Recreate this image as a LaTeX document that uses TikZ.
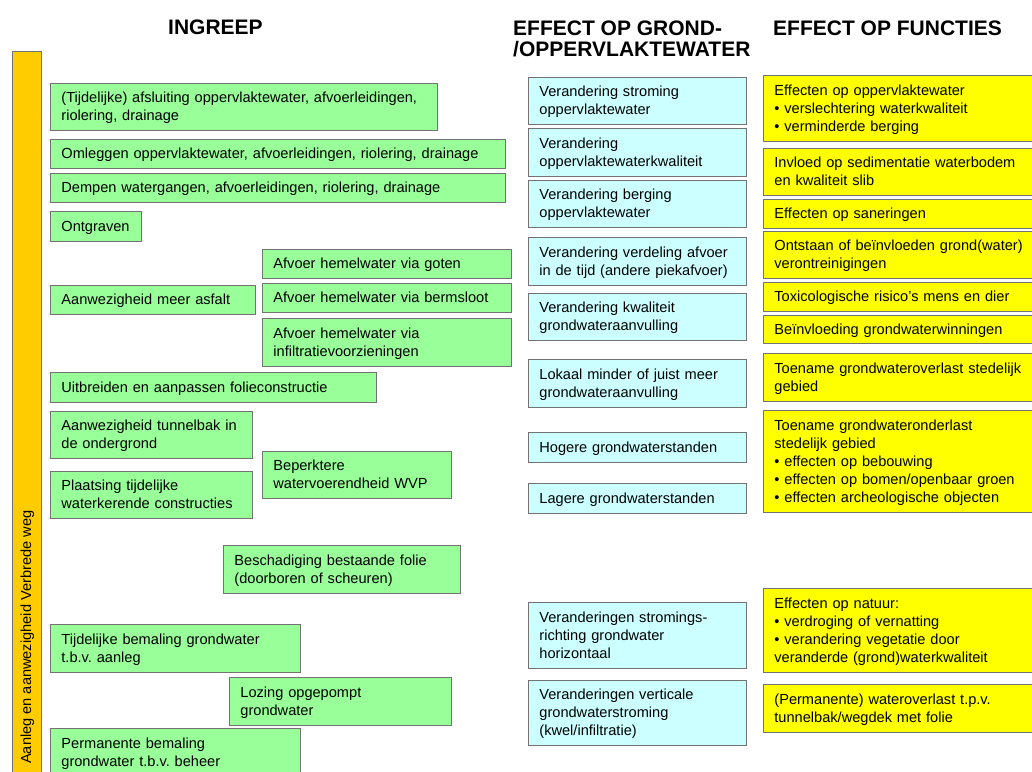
\documentclass[tikz,border=0pt]{standalone}
\usepackage{fontspec}
\setmainfont{Liberation Sans}
\usetikzlibrary{positioning}

\definecolor{groen}{RGB}{153,255,153}
\definecolor{lichtblauw}{RGB}{204,255,255}
\definecolor{geel}{RGB}{255,255,0}
\definecolor{oranje}{RGB}{255,204,0}

\newcommand{\tekst}{\fontsize{14.6}{18}\selectfont\frenchspacing}
\newcommand{\kop}{\fontsize{21}{22}\selectfont\bfseries}
\newcommand{\bovenstrut}{\rule{0pt}{14pt}}
\newcommand{\onderstrut}{\rule[-4pt]{0pt}{4pt}}

\begin{document}
\begin{tikzpicture}[x=1pt, y=-1pt,
	vak/.style 2 args={draw=black!55, line width=0.8pt, anchor=north west,
		text width=#1pt-23pt, minimum height=#2pt, inner xsep=11pt, inner ysep=1pt,
		align=left, font=\tekst,
		execute at begin node=\bovenstrut, execute at end node=\onderstrut},
	ingreep/.style 2 args={vak={#1}{#2}, fill=groen},
	effect/.style 2 args={vak={#1}{#2}, fill=lichtblauw},
	functie/.style 2 args={vak={#1}{#2}, fill=geel},
	kop/.style={font=\kop, inner sep=0pt, anchor=base west}
	]

\useasboundingbox (0,0) rectangle (1032,771);
\clip (0,0) rectangle (1032,771);

% The headings
\node[kop] (kopingreep) at (168,34) {INGREEP};
\node[kop] (kopgrond) at (513,35) {EFFECT OP GROND-};
\node[kop] (kopopp) at ([yshift=-21.5pt]kopgrond.base west) {/OPPERVLAKTEWATER};
\node[kop] (kopfunctie) at (773,35) {EFFECT OP FUNCTIES};

% The phase bar
\filldraw[fill=oranje, draw=black!55, line width=0.8pt] (12,51) rectangle (41,790);
\node[rotate=90, anchor=base west, font=\tekst, inner sep=0pt] (fase) at (31,764)
	{Aanleg en aanwezigheid Verbrede weg};

% The measures
\node[ingreep={388}{47}] (afsluiting) at (50,83)
	{(Tijdelijke) afsluiting oppervlaktewater, afvoerleidingen,\\ riolering, drainage};
\node[ingreep={456}{29}] (omleggen) at (50,139)
	{Omleggen oppervlaktewater, afvoerleidingen, riolering, drainage};
\node[ingreep={456}{29}] (dempen) at (50,173)
	{Dempen watergangen, afvoerleidingen, riolering, drainage};
\node[ingreep={92}{30}] (ontgraven) at (50,211) {Ontgraven};
\node[ingreep={250}{29}] (goten) at (262,249) {Afvoer hemelwater via goten};
\node[ingreep={206}{29}] (asfalt) at (50,285) {Aanwezigheid meer asfalt};
\node[ingreep={250}{29}] (bermsloot) at (262,283) {Afvoer hemelwater via bermsloot};
\node[ingreep={250}{48}] (infiltratie) at (262,318)
	{Afvoer hemelwater via\\ infiltratievoorzieningen};
\node[ingreep={327}{30}] (folie) at (50,372) {Uitbreiden en aanpassen folieconstructie};
\node[ingreep={203}{47}] (tunnelbak) at (50,411) {Aanwezigheid tunnelbak in\\ de ondergrond};
\node[ingreep={203}{47}] (kerend) at (50,471) {Plaatsing tijdelijke\\ waterkerende constructies};
\node[ingreep={190}{47}] (wvp) at (262,451) {Beperktere\\ watervoerendheid WVP};
\node[ingreep={238}{48}] (beschadiging) at (223,545)
	{Beschadiging bestaande folie\\ (doorboren of scheuren)};
\node[ingreep={251}{48}] (tijdbemaling) at (50,624) {Tijdelijke bemaling grondwater\\ t.b.v. aanleg};
\node[ingreep={223}{48}] (lozing) at (229,677) {Lozing opgepompt\\ grondwater};
\node[ingreep={251}{48}] (permbemaling) at (50,728) {Permanente bemaling\\ grondwater t.b.v. beheer};

% The effects on ground and surface water
\foreach \nm/\y/\h/\txt in {
	stroming/77/47/{Verandering stroming\\ oppervlaktewater},
	oppkwaliteit/128/48/{Verandering\\ oppervlaktewaterkwaliteit},
	berging/180/47/{Verandering berging\\ oppervlaktewater},
	verdeling/237/48/{Verandering verdeling afvoer\\ in de tijd (andere piekafvoer)},
	aanvkwaliteit/293/47/{Verandering kwaliteit\\ grondwateraanvulling},
	lokaal/359/48/{Lokaal minder of juist meer\\ grondwateraanvulling},
	hoger/432/30/{Hogere grondwaterstanden},
	lager/483/30/{Lagere grondwaterstanden},
	horizontaal/602/66/{Veranderingen stromings-\\ richting grondwater\\ horizontaal},
	verticaal/680/65/{Veranderingen verticale\\ grondwaterstroming\\ (kwel/infiltratie)}}{
	\node[effect={219}{\h}] (\nm) at (528,\y) {\txt};
}

% The effects on functions
\node[functie={290}{66}] (oppwater) at (763,75)
	{Effecten op oppervlaktewater\\ • verslechtering waterkwaliteit\\ • verminderde berging};
\node[functie={290}{47}] (sediment) at (763,148)
	{Invloed op sedimentatie waterbodem\\ en kwaliteit slib};
\node[functie={290}{29}] (saneringen) at (763,199) {Effecten op saneringen};
\node[functie={290}{47}] (ontstaan) at (763,231)
	{Ontstaan of beïnvloeden grond(water)\\ verontreinigingen};
\node[functie={290}{29}] (toxico) at (763,282) {Toxicologische risico’s mens en dier};
\node[functie={290}{28}] (winning) at (763,315) {Beïnvloeding grondwaterwinningen};
\node[functie={290}{48}] (overlast) at (763,353)
	{Toename grondwateroverlast stedelijk\\ gebied};
\node[functie={290}{102}] (onderlast) at (763,410)
	{Toename grondwateronderlast\\ stedelijk gebied\\ • effecten op bebouwing\\
	 • effecten op bomen/openbaar groen\\ • effecten archeologische objecten};
\node[functie={290}{84}] (natuur) at (763,588)
	{Effecten op natuur:\\ • verdroging of vernatting\\ • verandering vegetatie door\\
	 veranderde (grond)waterkwaliteit};
\node[functie={290}{48}] (wateroverlast) at (763,684)
	{(Permanente) wateroverlast t.p.v.\\ tunnelbak/wegdek met folie};

\end{tikzpicture}
\end{document}
